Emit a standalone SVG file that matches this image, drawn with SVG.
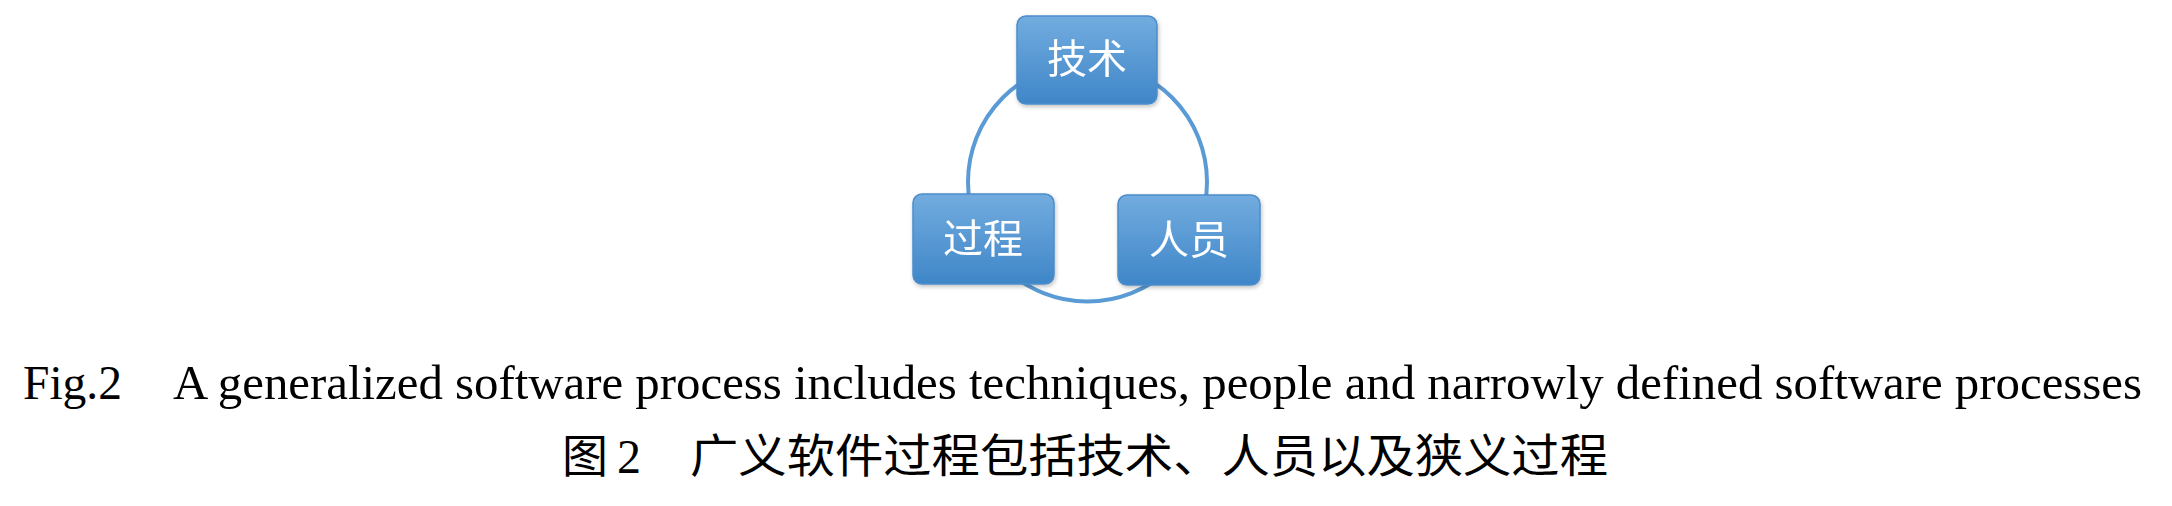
<svg xmlns="http://www.w3.org/2000/svg" width="2172" height="506" viewBox="0 0 2172 506">
  <style>
    .box { fill: url(#boxGrad); stroke: #4b8dcb; stroke-width: 1.5; }
    .lbl { font-family: "Noto Sans CJK SC", "Noto Sans", sans-serif; font-size: 40px; fill: #ffffff; text-anchor: middle; }
    .conn { fill: none; stroke: #5b9bd5; stroke-width: 4; }
    .en { font-family: "Liberation Serif", "Times New Roman", serif; font-size: 48px; fill: #000000; }
    .zh { font-family: "Noto Sans CJK SC", sans-serif; font-size: 46px; fill: #000000; }
  </style>
  <defs>
    <linearGradient id="boxGrad" x1="0" y1="0" x2="0" y2="1">
      <stop offset="0" stop-color="#72acdf"/>
      <stop offset="1" stop-color="#3f86c8"/>
    </linearGradient>
    <filter id="shadow" x="-10%" y="-10%" width="130%" height="130%">
      <feGaussianBlur in="SourceAlpha" stdDeviation="2"/>
      <feOffset dx="1" dy="2" result="b"/>
      <feComponentTransfer><feFuncA type="linear" slope="0.25"/></feComponentTransfer>
      <feMerge><feMergeNode/><feMergeNode in="SourceGraphic"/></feMerge>
    </filter>
  </defs>
  <rect width="2172" height="506" fill="#ffffff"/>

  <g id="connectors">
    <circle class="conn" cx="1087.5" cy="182" r="119.5"/>
  </g>

  <g id="node-jishu" filter="url(#shadow)">
    <rect class="box" x="1017" y="16" width="140" height="88" rx="9" ry="9"/>
    <text class="lbl" x="1087" y="73">技术</text>
  </g>
  <g id="node-guocheng" filter="url(#shadow)">
    <rect class="box" x="913" y="194" width="141" height="90" rx="9" ry="9"/>
    <text class="lbl" x="983" y="253">过程</text>
  </g>
  <g id="node-renyuan" filter="url(#shadow)">
    <rect class="box" x="1118" y="195" width="142" height="90" rx="9" ry="9"/>
    <text class="lbl" x="1189" y="254">人员</text>
  </g>

  <g id="caption">
    <text class="en" x="23" y="399" textLength="99" lengthAdjust="spacingAndGlyphs">Fig.2</text>
    <text class="en" x="173" y="399" textLength="1969" lengthAdjust="spacingAndGlyphs">A generalized software process includes techniques, people and narrowly defined software processes</text>
    <text class="zh" x="562" y="472" font-size="44">图</text>
    <text class="en" x="617" y="473" font-size="44">2</text>
    <text class="zh" x="690" y="472" textLength="918" lengthAdjust="spacingAndGlyphs">广义软件过程包括技术、人员以及狭义过程</text>
  </g>
</svg>
